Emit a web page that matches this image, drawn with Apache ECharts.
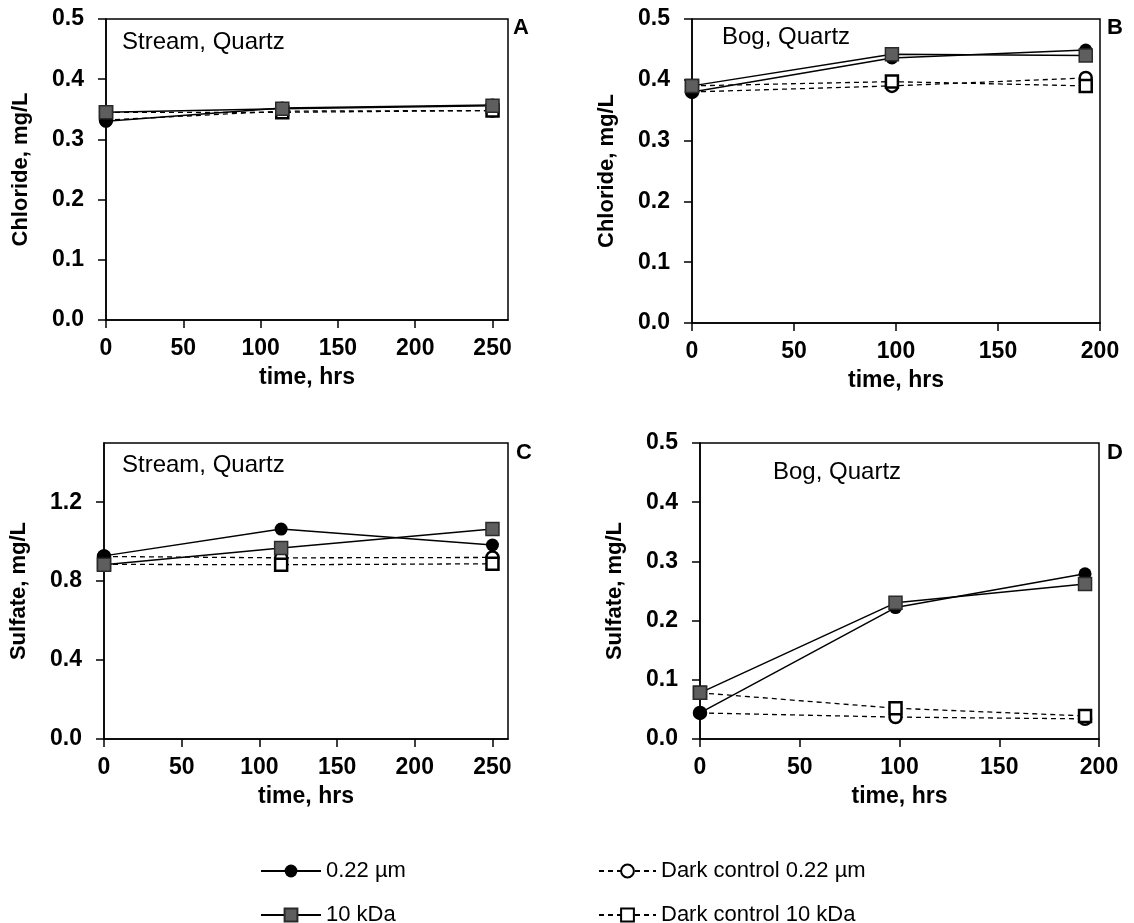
<!DOCTYPE html>
<html>
<head>
<meta charset="utf-8">
<script src="https://cdn.jsdelivr.net/npm/echarts@6/dist/echarts.min.js"></script>
<style>html,body{margin:0;padding:0;background:#fff}#c{width:1134px;height:923px}</style>
</head>
<body>
<div id="c"></div>
<script>
// ---- data ----
const timesA = [0, 114, 250];
const timesB = [0, 98, 193];
const timesC = [0, 114, 250];
const timesD = [0, 98, 193];

const clA_022 = [0.330, 0.352, 0.357];
const clA_10k = [0.345, 0.351, 0.356];
const clA_d022 = [0.332, 0.347, 0.348];
const clA_d10k = [0.345, 0.345, 0.348];

const clB_022 = [0.380, 0.436, 0.449];
const clB_10k = [0.390, 0.442, 0.440];
const clB_d022 = [0.380, 0.390, 0.403];
const clB_d10k = [0.390, 0.397, 0.390];

const soC_022 = [0.928, 1.064, 0.983];
const soC_10k = [0.883, 0.968, 1.064];
const soC_d022 = [0.925, 0.918, 0.920];
const soC_d10k = [0.885, 0.883, 0.888];

const soD_022 = [0.044, 0.222, 0.279];
const soD_10k = [0.078, 0.230, 0.262];
const soD_d022 = [0.044, 0.037, 0.034];
const soD_d10k = [0.078, 0.052, 0.039];

const xTicks250 = [0, 50, 100, 150, 200, 250];
const xTicks200 = [0, 50, 100, 150, 200];
const yTicksCl = [0, 0.1, 0.2, 0.3, 0.4, 0.5];
const yTicksSoC = [0, 0.4, 0.8, 1.2];
const yTicksSoD = [0, 0.1, 0.2, 0.3, 0.4, 0.5];

const seriesNames = ['0.22 µm', '10 kDa', 'Dark control 0.22 µm', 'Dark control 10 kDa'];
const panelTitles = ['Stream, Quartz', 'Bog, Quartz', 'Stream, Quartz', 'Bog, Quartz'];
const panelLetters = ['A', 'B', 'C', 'D'];
const yNames = ['Chloride, mg/L', 'Chloride, mg/L', 'Sulfate, mg/L', 'Sulfate, mg/L'];
const xName = 'time, hrs';

// ---- chart ----
const FONT = '"Liberation Sans", Arial, sans-serif';
const grids = [
  {left: 106, top: 19, width: 402, height: 301},
  {left: 692, top: 19, width: 408, height: 304},
  {left: 104, top: 443, width: 404, height: 296},
  {left: 700, top: 443, width: 399, height: 296}
];
const xMax = [260, 200, 260, 200];
const xTickSets = [xTicks250, xTicks200, xTicks250, xTicks200];
const yMax = [0.5, 0.5, 1.5, 0.5];
const yTickSets = [yTicksCl, yTicksCl, yTicksSoC, yTicksSoD];

const axisLine = {show: true, onZero: false, lineStyle: {color: '#000', width: 1.5}};
const tickStyle = {color: '#000', width: 1.5};
const labelStyle = {color: '#000', fontSize: 23, fontWeight: 'bold', fontFamily: FONT};

const xAxis = grids.map((g, i) => ({
  type: 'value', gridIndex: i, min: 0, max: xMax[i],
  axisLine: axisLine,
  axisTick: {show: true, length: 8, lineStyle: tickStyle, customValues: xTickSets[i]},
  axisLabel: Object.assign({margin: 17, customValues: xTickSets[i], formatter: v => String(v)}, labelStyle),
  splitLine: {show: false},
  name: xName, nameLocation: 'middle', nameGap: 46,
  nameTextStyle: {color: '#000', fontSize: 23, fontWeight: 'bold', fontFamily: FONT}
}));
const yAxis = grids.map((g, i) => ({
  type: 'value', gridIndex: i, min: 0, max: yMax[i],
  axisLine: axisLine,
  axisTick: {show: true, length: 8, lineStyle: tickStyle, customValues: yTickSets[i]},
  axisLabel: Object.assign({margin: 22, customValues: yTickSets[i], formatter: v => v.toFixed(1)}, labelStyle),
  splitLine: {show: false},
  name: yNames[i], nameLocation: 'middle', nameGap: 74, nameRotate: 90,
  nameTextStyle: {color: '#000', fontSize: 22, fontWeight: 'bold', fontFamily: FONT}
}));

const panelData = [
  [timesA, clA_022, clA_10k, clA_d022, clA_d10k],
  [timesB, clB_022, clB_10k, clB_d022, clB_d10k],
  [timesC, soC_022, soC_10k, soC_d022, soC_d10k],
  [timesD, soD_022, soD_10k, soD_d022, soD_d10k]
];

const styles = {
  '0.22 µm': {symbol: 'circle', symbolSize: 13, itemStyle: {color: '#000', borderColor: '#000', borderWidth: 0}, lineStyle: {color: '#000', width: 1.5, type: 'solid'}},
  '10 kDa': {symbol: 'rect', symbolSize: 13, itemStyle: {color: '#5e5e5e', borderColor: '#2a2a2a', borderWidth: 1.5}, lineStyle: {color: '#000', width: 1.5, type: 'solid'}},
  'Dark control 0.22 µm': {symbol: 'circle', symbolSize: 12, itemStyle: {color: '#fff', borderColor: '#000', borderWidth: 2.5}, lineStyle: {color: '#000', width: 1.3, type: [5, 4]}},
  'Dark control 10 kDa': {symbol: 'rect', symbolSize: 12, itemStyle: {color: '#fff', borderColor: '#000', borderWidth: 2.5}, lineStyle: {color: '#000', width: 1.3, type: [5, 4]}}
};
const drawOrder = [2, 3, 0, 1];

const series = [];
panelData.forEach((pd, i) => {
  const t = pd[0];
  drawOrder.forEach((k, zi) => {
    const name = seriesNames[k];
    const vals = pd[k + 1];
    series.push(Object.assign({
      type: 'line', name: name, xAxisIndex: i, yAxisIndex: i,
      data: t.map((x, j) => [x, vals[j]]),
      showAllSymbol: true, animation: false, z: 2 + zi,
      emphasis: {disabled: true}
    }, styles[name]));
  });
});

const graphics = [];
const titlePos = [[122, 42], [722, 37], [122, 465], [773, 472]];
const letterPos = [[513, 28], [1107, 28], [516, 453], [1107, 453]];
for (let i = 0; i < 4; i++) {
  graphics.push({type: 'text', left: titlePos[i][0], top: titlePos[i][1] - 12,
    style: {text: panelTitles[i], fill: '#000', font: '24px ' + FONT}});
  graphics.push({type: 'text', left: letterPos[i][0], top: letterPos[i][1] - 11,
    style: {text: panelLetters[i], fill: '#000', font: 'bold 22px ' + FONT}});
}

const legendText = {color: '#000', fontSize: 22, lineHeight: 18, fontFamily: FONT};
const option = {
  backgroundColor: '#fff',
  animation: false,
  grid: grids.map(g => Object.assign({show: true, borderColor: '#000', borderWidth: 1.5, backgroundColor: 'transparent', containLabel: false}, g)),
  xAxis: xAxis,
  yAxis: yAxis,
  legend: [
    {data: [seriesNames[0], seriesNames[1]], orient: 'vertical', left: 260, top: 860, height: 120, width: 250, padding: 0,
     itemWidth: 60, itemHeight: 16, itemGap: 22, textStyle: legendText, selectedMode: false},
    {data: [seriesNames[2], seriesNames[3]], orient: 'vertical', left: 598, top: 860, height: 120, width: 300, padding: 0,
     itemWidth: 57, itemHeight: 16, itemGap: 22, textStyle: legendText, selectedMode: false}
  ],
  graphic: graphics,
  series: series
};
const chart = echarts.init(document.getElementById('c'), null, {renderer: 'canvas'});
chart.setOption(option);
</script>
</body>
</html>
